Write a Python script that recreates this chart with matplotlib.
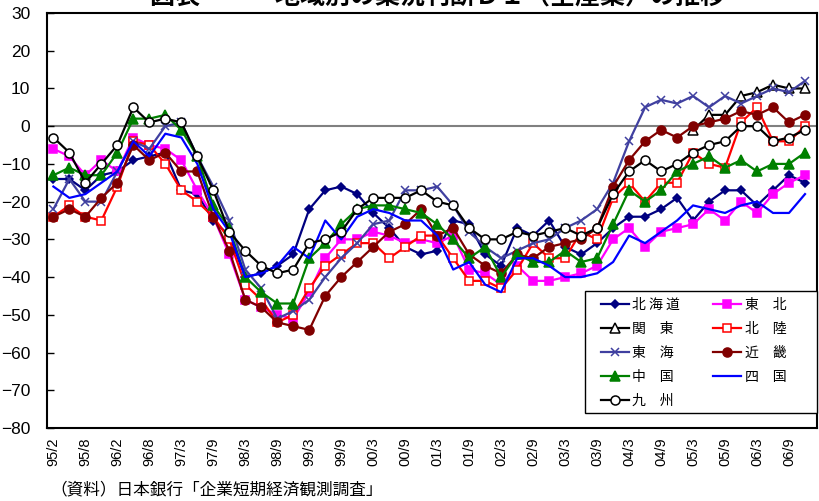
import numpy as np
import matplotlib
matplotlib.use("Agg")
import matplotlib.pyplot as plt
from matplotlib.patches import Rectangle

plt.rcParams['font.family'] = ['Liberation Sans Narrow', 'Liberation Sans', 'Noto Sans CJK JP', 'DejaVu Sans']
plt.rcParams['axes.unicode_minus'] = True

# survey points, 95/2 .. 06/12 (labels on every other point)
periods = ['95/2', '95/5', '95/8', '95/11', '96/2', '96/5', '96/8', '96/11',
           '97/3', '97/6', '97/9', '97/12', '98/3', '98/6', '98/9', '98/12',
           '99/3', '99/6', '99/9', '99/12', '00/3', '00/6', '00/9', '00/12',
           '01/3', '01/6', '01/9', '01/12', '02/3', '02/6', '02/9', '02/12',
           '03/3', '03/6', '03/9', '03/12', '04/3', '04/6', '04/9', '04/12',
           '05/3', '05/6', '05/9', '05/12', '06/3', '06/6', '06/9', '06/12']

nan = np.nan
hokkaido = [-14, -14, -17, -13, -12, -9, -8, -7, -17, -18, -25, -29, -40, -39, -37, -34,
            -22, -17, -16, -18, -23, -27, -32, -34, -33, -25, -26, -34, -37, -27, -29, -25,
            -32, -34, -31, -27, -24, -24, -22, -19, -25, -20, -17, -17, -21, -17, -13, -15]
tohoku = [-6, -8, -13, -9, -12, -3, -5, -6, -9, -17, -24, -34, -46, -48, -50, -51,
          -44, -35, -30, -30, -28, -29, -31, -30, -31, -29, -38, -39, -42, -37, -41, -41,
          -40, -39, -37, -30, -27, -32, -28, -27, -26, -22, -25, -20, -23, -18, -15, -13]
kanto = [nan] * 40 + [-1, 3, 3, 8, 9, 11, 10, 10]
hokuriku = [-24, -21, -24, -25, -16, -4, -5, -10, -17, -20, -24, -30, -42, -46, -52, -50,
            -43, -37, -34, -31, -31, -35, -32, -29, -29, -35, -41, -41, -43, -38, -31, -35,
            -35, -28, -30, -19, -15, -20, -15, -15, -7, -10, -11, 1, 5, -4, -4, 0]
tokai = [-22, -14, -20, -20, -12, -4, -6, 0, 1, -8, -16, -25, -38, -43, -51, -49,
         -46, -40, -35, -31, -26, -25, -17, -17, -16, -21, -28, -32, -35, -33, -31, -30,
         -27, -25, -22, -15, -4, 5, 7, 6, 8, 5, 8, 6, 8, 10, 9, 12]
kinki = [-24, -22, -24, -19, -15, -5, -9, -7, -12, -12, -24, -33, -46, -48, -52, -53,
         -54, -45, -40, -36, -32, -28, -26, -22, -29, -27, -34, -37, -39, -34, -35, -32,
         -31, -30, -27, -16, -9, -4, -1, -3, 0, 1, 2, 4, 3, 5, 1, 3]
chugoku = [-13, -11, -13, -13, -7, 2, 2, 3, -1, -8, -21, -27, -40, -44, -47, -47,
           -35, -31, -26, -22, -21, -21, -22, -23, -26, -30, -35, -32, -40, -34, -36, -36,
           -33, -36, -35, -26, -17, -20, -17, -12, -10, -8, -11, -9, -12, -10, -10, -7]
shikoku = [-16, -19, -18, -15, -12, -4, -8, -2, -3, -10, -22, -28, -40, -39, -37, -32,
           -35, -25, -30, -24, -22, -23, -25, -25, -29, -38, -36, -42, -44, -35, -35, -37,
           -40, -40, -39, -36, -29, -31, -28, -25, -21, -22, -23, -21, -20, -23, -23, -18]
kyushu = [-3, -7, -15, -10, -5, 5, 1, 2, 1, -8, -17, -28, -33, -37, -39, -38,
          -31, -30, -28, -22, -19, -19, -19, -17, -20, -21, -27, -30, -30, -28, -29, -28,
          -27, -29, -27, -18, -12, -9, -12, -10, -7, -5, -4, 0, 0, -4, -3, -1]

x = np.arange(len(periods))

# name, values, line colour, marker, marker face, marker size
series = [
    ('北 海 道', hokkaido, '#000080', 'D', '#000080', 4.5),
    ('東　北', tohoku, '#FF00FF', 's', '#FF00FF', 6),
    ('関　東', kanto, 'black', '^', 'white', 6.5),
    ('北　陸', hokuriku, '#FF0000', 's', 'white', 6),
    ('東　海', tokai, '#4040A0', 'x', '#4040A0', 6),
    ('近　畿', kinki, '#800000', 'o', '#800000', 6.5),
    ('中　国', chugoku, '#008000', '^', '#008000', 6.5),
    ('四　国', shikoku, '#0000FF', None, '#0000FF', 0),
    ('九　州', kyushu, 'black', 'o', 'white', 6.5),
]

W, H = 819, 501
fig = plt.figure(figsize=(W / 100, H / 100), dpi=100)
ax = fig.add_axes([47 / W, 1 - 428 / H, (817 - 47) / W, (428 - 13) / H])

ax.axhline(0, color='#808080', lw=1.5, zorder=1)

lines = {}
for name, vals, col, mk, face, ms in series:
    ln, = ax.plot(x, vals, color=col, lw=1.6, marker=mk, markersize=ms,
                  markerfacecolor=face, markeredgecolor=col, markeredgewidth=1.1,
                  label=name, zorder=2)
    lines[name] = ln

ax.set_xlim(-0.4, 47.75)
ax.set_ylim(-80, 30)
ax.set_yticks(range(-80, 31, 10))
ax.set_xticks(x[::2])
ax.set_xticklabels(periods[::2], rotation=90, fontsize=10.5)
ax.tick_params(axis='x', length=0, pad=7)
ax.tick_params(axis='y', direction='in', length=5, width=1, labelsize=12.5, pad=12)

for sp in ax.spines.values():
    sp.set_linewidth(1.5)
    sp.set_color('black')

# legend box drawn by hand, entries placed inside it
fig.patches.append(Rectangle((585 / W, 1 - 413 / H), 232 / W, 122 / H,
                             transform=fig.transFigure, fill=True, facecolor='white',
                             edgecolor='black', lw=1.0, zorder=3))

# legend fills column by column, so list column 1 first
order = ['北 海 道', '関　東', '東　海', '中　国', '九　州', '東　北', '北　陸', '近　畿', '四　国']
leg = fig.legend([lines[n] for n in order], order, ncol=2, loc='upper left',
                 bbox_to_anchor=(601 / W, 1 - 298 / H), frameon=False,
                 handlelength=2.0, handletextpad=0.25, labelspacing=0.71,
                 columnspacing=2.4, borderpad=0.0, borderaxespad=0.0,
                 prop={'family': ['Noto Sans CJK JP'], 'size': 10})
leg.set_zorder(4)

fig.text(50 / W, 1 - 490 / H, '（資料）日本銀行「企業短期経済観測調査」', fontsize=12,
         family=['Noto Sans CJK JP'], va='center', ha='left')

fig.text(438 / W, 1.005, '図表　―　地域別の業況判断ＤＩ（全産業）の推移', fontsize=18,
         family=['Noto Sans CJK JP'], va='center', ha='center', weight='bold')

fig.savefig('out.png', dpi=100)
